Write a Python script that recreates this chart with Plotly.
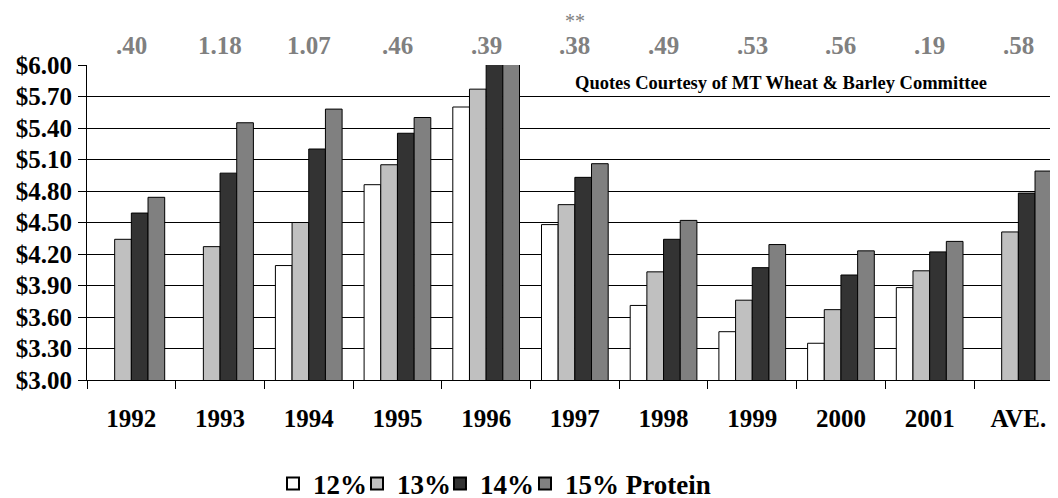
import plotly.graph_objects as go

categories = ["1992", "1993", "1994", "1995", "1996", "1997", "1998", "1999", "2000", "2001", "AVE."]
p12 = [None, None, 4.09, 4.86, 5.60, 4.48, 3.71, 3.46, 3.35, 3.88, None]
p13 = [4.34, 4.27, 4.50, 5.05, 5.77, 4.67, 4.03, 3.76, 3.67, 4.04, 4.41]
p14 = [4.59, 4.97, 5.20, 5.35, 6.16, 4.93, 4.34, 4.07, 4.00, 4.22, 4.78]
p15 = [4.74, 5.45, 5.58, 5.50, 6.16, 5.06, 4.52, 4.29, 4.23, 4.32, 4.99]
spreads = [".40", "1.18", "1.07", ".46", ".39", ".38", ".49", ".53", ".56", ".19", ".58"]
series_names = ["12%", "13%", "14%", "15% Protein"]
colors = ["#FFFFFF", "#C0C0C0", "#333333", "#808080"]

font_fam = "Liberation Serif"

# page body adds an 8px offset; figure is sized to fit the 1058x498 window
W, H = 1050, 490
L, T, B = 79, 57, 118

legend_ids = ["legend", "legend2", "legend3", "legend4"]
legend_x = [0.2524, 0.3324, 0.4114, 0.4924]

fig = go.Figure()
for name, vals, col, lid in zip(series_names, [p12, p13, p14, p15], colors, legend_ids):
    fig.add_trace(go.Bar(
        x=categories, y=vals, name=name,
        marker=dict(color=col, line=dict(color="#000000", width=1)),
        legend=lid,
    ))

annotations = []
for i, s in enumerate(spreads):
    annotations.append(dict(x=i, y=1.0, xref="x", yref="paper", yshift=20,
                            text=s, showarrow=False, yanchor="middle",
                            font=dict(family=font_fam, size=25, color="#808080", weight="bold")))
annotations.append(dict(x=categories.index("1997"), y=1.0, xref="x", yref="paper", yshift=44,
                        text="**", showarrow=False, yanchor="middle",
                        font=dict(family=font_fam, size=20, color="#808080")))
annotations.append(dict(x=0.715, y=0.943, xref="x domain", yref="y domain",
                        text="Quotes Courtesy of MT Wheat &amp; Barley Committee",
                        showarrow=False, xanchor="center", yanchor="middle",
                        font=dict(family=font_fam, size=18.5, color="#000000", weight="bold")))

legend_font = dict(family=font_fam, size=27, color="#000000", weight="bold")
legend_layouts = {}
for lid, lx in zip(legend_ids, legend_x):
    legend_layouts[lid] = dict(orientation="h", xref="container", yref="container",
                               x=lx, xanchor="left", y=0.0286, yanchor="middle",
                               font=legend_font, itemsizing="constant", itemwidth=30,
                               bgcolor="rgba(0,0,0,0)")

fig.update_layout(
    width=W, height=H,
    margin=dict(l=L, r=0, t=T, b=B, autoexpand=False),
    paper_bgcolor="white", plot_bgcolor="white",
    barmode="group", bargap=0.248, bargroupgap=0,
    font=dict(family=font_fam, color="#000000"),
    showlegend=True,
    annotations=annotations,
    xaxis=dict(type="category", range=[-0.5, 10.447], autorange=False,
               showline=True, linecolor="#000000", linewidth=1,
               ticks="outside", tickson="boundaries", ticklen=8, tickcolor="#000000",
               tickangle=0, ticklabelstandoff=16,
               tickfont=dict(family=font_fam, size=25, color="#000000", weight="bold"),
               showgrid=False),
    yaxis=dict(range=[3.0, 6.0], tick0=3.0, dtick=0.3, tickformat="$.2f",
               showline=True, linecolor="#000000", linewidth=1,
               ticks="outside", ticklen=8, tickcolor="#000000", ticklabelstandoff=1,
               showgrid=True, gridcolor="#000000", gridwidth=1,
               tickfont=dict(family=font_fam, size=25, color="#000000", weight="bold"),
               zeroline=False),
    **legend_layouts,
)

fig.write_html("out.html")
